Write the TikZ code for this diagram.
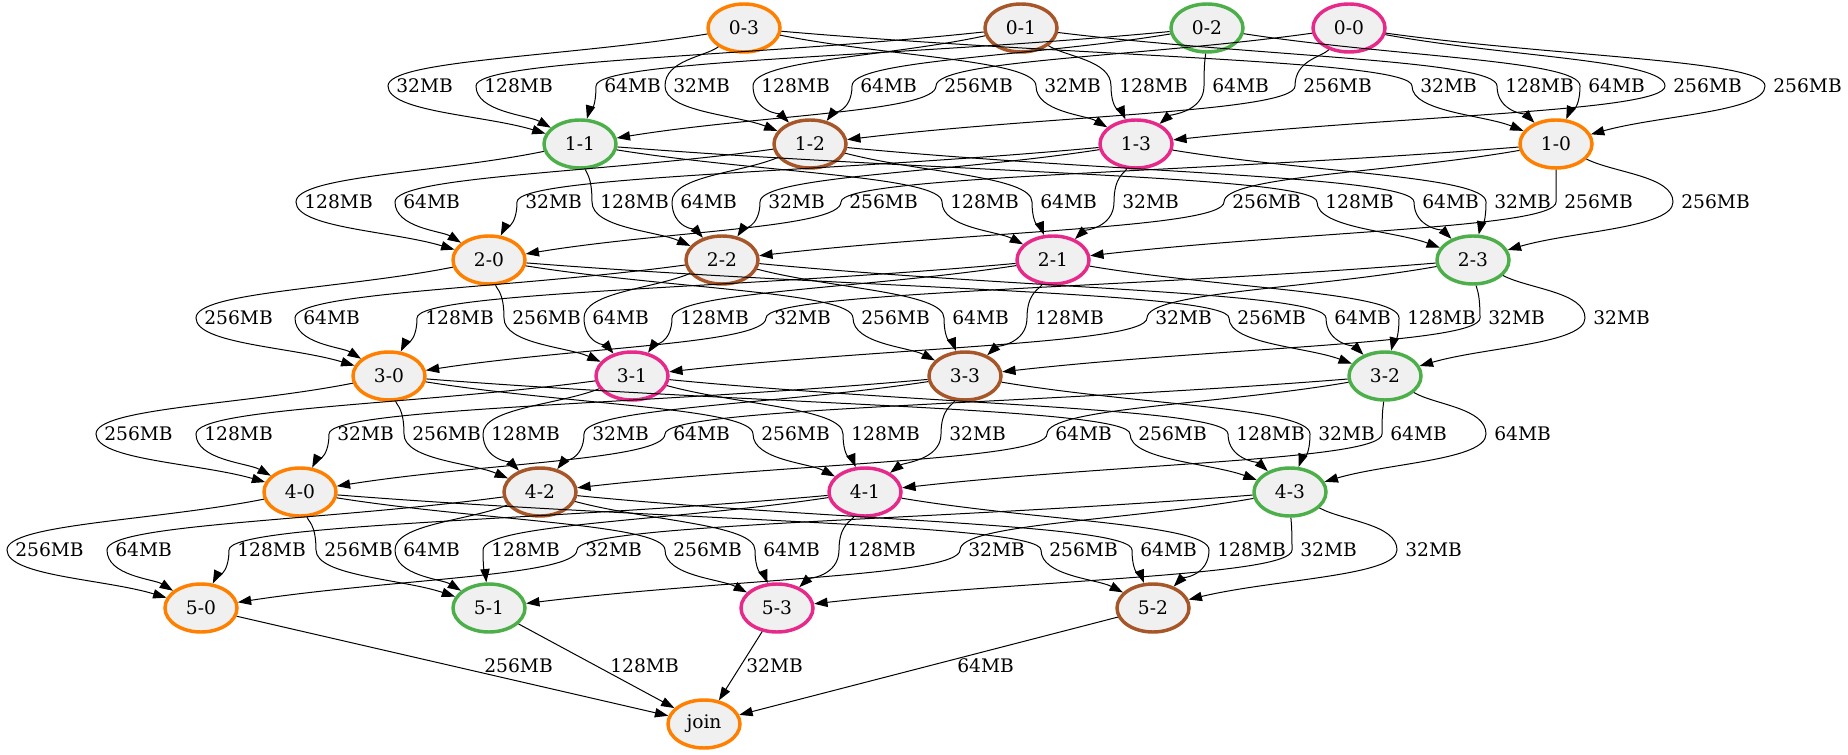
\documentclass[tikz,border=0pt]{standalone}
\usepackage{fontspec}
\setmainfont{DejaVu Serif}
\usetikzlibrary{shapes.geometric,arrows.meta,calc}
\definecolor{cor}{HTML}{FF7F00}
\definecolor{cbr}{HTML}{A65628}
\definecolor{cgr}{HTML}{4DAF4A}
\definecolor{cpk}{HTML}{E7298A}

\begin{document}
\begin{tikzpicture}[x=0.75pt,y=-0.75pt,
   nd/.style={ellipse,draw,line width=2.6pt,fill=black!6,minimum width=54pt,
     minimum height=36pt,inner sep=0pt,font=\fontsize{14}{16}\selectfont},
   lbl/.style={anchor=west,inner sep=0pt,font=\fontsize{14}{16}\selectfont},
   arr/.style={-{Triangle[length=10pt,width=7pt]},line width=0.75pt}]
     \useasboundingbox (0,0) rectangle (1848,755);
     \def\conn#1#2#3#4#5{%
      \coordinate (p) at (#3-8,#4);
      \draw[arr] (#1) .. controls ($(#1)!.5!(p)$) and ($(p)+(0,-26)$) .. (p)
        .. controls ($(p)+(0,26)$) and ($(#2)!.5!(p)$) .. (#2);
      \node[lbl] at (#3,#4) {#5};}
     \foreach \n/\x/\y/\c/\t in {
      n03/744/28/cor/0-3, n01/1021/28/cbr/0-1, n02/1207/28/cgr/0-2, n00/1349/28/cpk/0-0,
      n11/580/144/cgr/1-1, n12/810/144/cbr/1-2, n13/1136/144/cpk/1-3, n10/1556/144/cor/1-0,
      n20/489/260/cor/2-0, n22/722/260/cbr/2-2, n21/1053/260/cpk/2-1, n23/1473/260/cgr/2-3,
      n30/389/376/cor/3-0, n31/632/376/cpk/3-1, n33/965/376/cbr/3-3, n32/1385/376/cgr/3-2,
      n40/300/492/cor/4-0, n42/540/492/cbr/4-2, n41/865/492/cpk/4-1, n43/1290/492/cgr/4-3,
      n50/201/608/cor/5-0, n51/489/608/cgr/5-1, n53/777/608/cpk/5-3, n52/1153/608/cbr/5-2,
      join/704/724/cor/join}
      \node[nd,draw=\c] (\n) at (\x,\y) {\t};
     \foreach \s/\t/\lx/\w in {
      n03/n11/396/32MB, n01/n11/484/128MB, n02/n11/604/64MB, n03/n12/673/32MB,
      n01/n12/761/128MB, n02/n12/860/64MB, n00/n11/944/256MB, n03/n13/1044/32MB,
      n01/n13/1119/128MB, n02/n13/1212/64MB, n00/n12/1303/256MB, n03/n10/1420/32MB,
      n01/n10/1505/128MB, n02/n10/1588/64MB, n00/n13/1673/256MB, n00/n10/1773/256MB}
      \conn\s\t\lx{86}\w;
     \foreach \s/\t/\lx/\w in {
      n11/n20/304/128MB, n12/n20/403/64MB, n13/n20/525/32MB, n11/n22/600/128MB,
      n12/n22/680/64MB, n13/n22/768/32MB, n10/n20/849/256MB, n11/n21/950/128MB,
      n12/n21/1040/64MB, n13/n21/1122/32MB, n10/n22/1232/256MB, n11/n23/1325/128MB,
      n12/n23/1422/64MB, n13/n23/1494/32MB, n10/n21/1564/256MB, n10/n23/1681/256MB}
      \conn\s\t\lx{202}\w;
     \foreach \s/\t/\lx/\w in {
      n20/n30/204/256MB, n22/n30/303/64MB, n21/n30/425/128MB, n20/n31/512/256MB,
      n22/n31/592/64MB, n21/n31/680/128MB, n23/n30/774/32MB, n20/n33/861/256MB,
      n22/n33/952/64MB, n21/n33/1035/128MB, n23/n31/1155/32MB, n20/n32/1237/256MB,
      n22/n32/1334/64MB, n21/n32/1407/128MB, n23/n33/1488/32MB, n23/n32/1593/32MB}
      \conn\s\t\lx{318}\w;
     \foreach \s/\t/\lx/\w in {
      n30/n40/104/256MB, n31/n40/204/128MB, n33/n40/337/32MB, n30/n42/412/256MB,
      n31/n42/491/128MB, n33/n42/592/32MB, n32/n40/673/64MB, n30/n41/761/256MB,
      n31/n41/851/128MB, n33/n41/949/32MB, n32/n42/1055/64MB, n30/n43/1138/256MB,
      n31/n43/1236/128MB, n33/n43/1318/32MB, n32/n41/1390/64MB, n32/n43/1494/64MB}
      \conn\s\t\lx{434}\w;
     \foreach \s/\t/\lx/\w in {
      n40/n50/15/256MB, n42/n50/115/64MB, n41/n50/237/128MB, n40/n51/324/256MB,
      n42/n51/403/64MB, n41/n51/491/128MB, n43/n50/585/32MB, n40/n53/673/256MB,
      n42/n53/763/64MB, n41/n53/847/128MB, n43/n51/968/32MB, n40/n52/1049/256MB,
      n42/n52/1140/64MB, n41/n52/1217/128MB, n43/n53/1300/32MB, n43/n52/1405/32MB}
      \conn\s\t\lx{550}\w;
     \foreach \s/\lx/\w in {n50/484/256MB, n51/610/128MB, n53/746/32MB, n52/957/64MB} {
      \draw[arr] (\s) -- (join);
      \node[lbl] at (\lx,666) {\w};
     }
    \end{tikzpicture}
\end{document}
